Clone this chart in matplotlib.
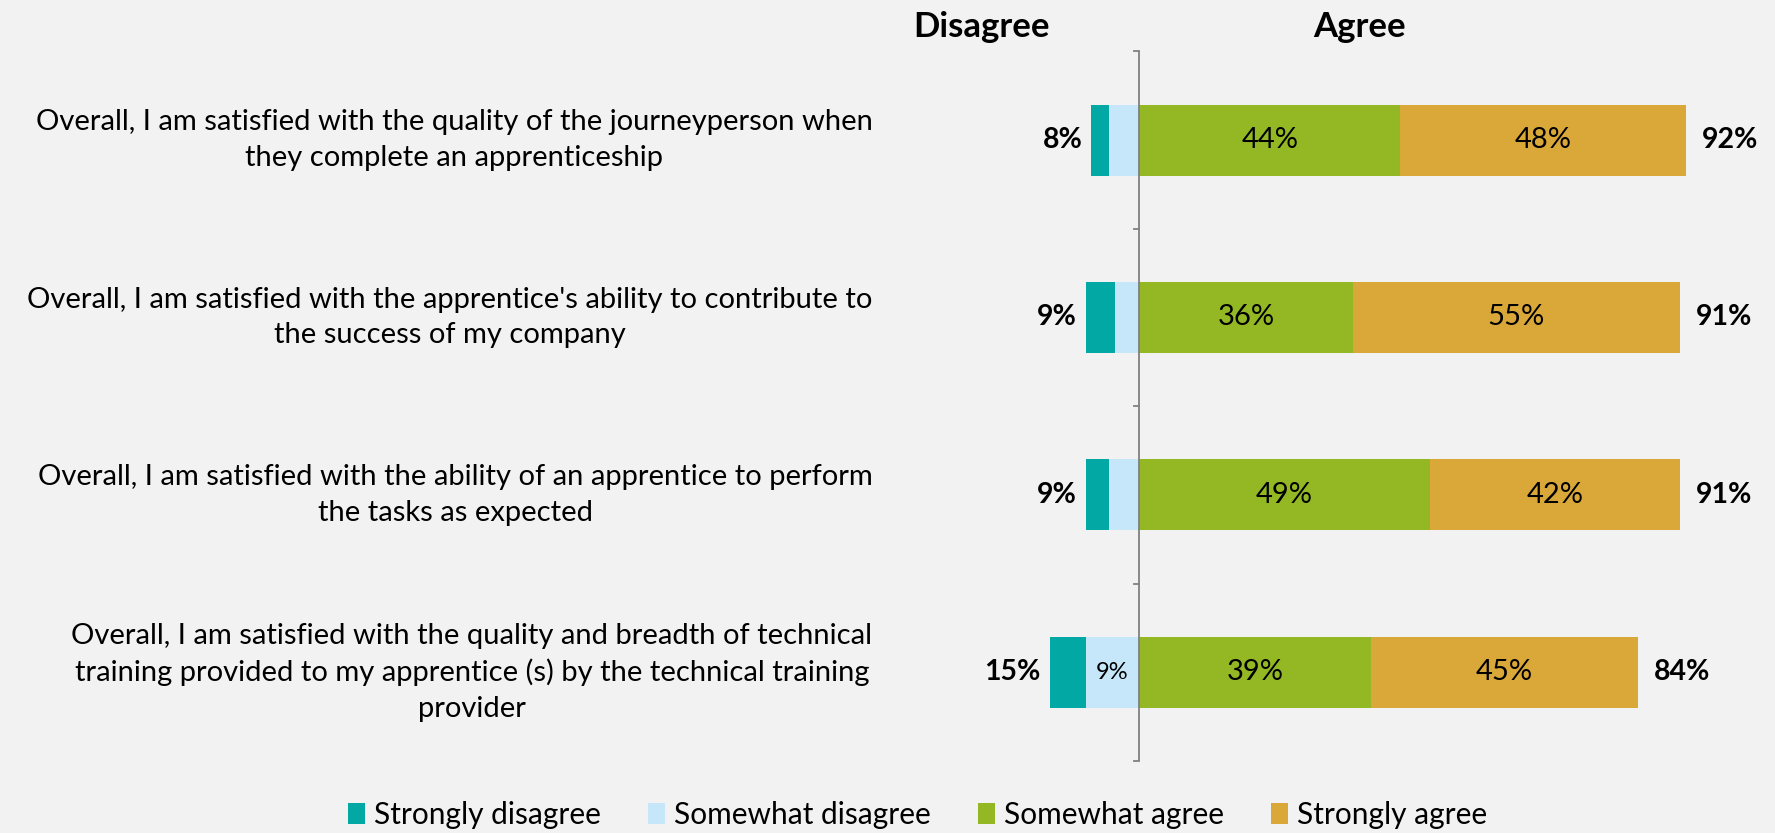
import matplotlib
matplotlib.use("Agg")
import matplotlib.pyplot as plt
import matplotlib.transforms as mtransforms
from matplotlib.patches import Patch

plt.rcParams['font.family'] = ['Lato', 'DejaVu Sans']

# Data
statements = [
    "Overall, I am satisfied with the quality of the journeyperson when\nthey complete an apprenticeship",
    "Overall, I am satisfied with the apprentice's ability to contribute to\nthe success of my company",
    "Overall, I am satisfied with the ability of an apprentice to perform\nthe tasks as expected",
    "Overall, I am satisfied with the quality and breadth of technical\ntraining provided to my apprentice (s) by the technical training\nprovider",
]
strongly_disagree = [3, 5, 4, 6]
somewhat_disagree = [5, 4, 5, 9]
somewhat_agree = [44, 36, 49, 39]
strongly_agree = [48, 55, 42, 45]
disagree_total = [8, 9, 9, 15]
agree_total = [92, 91, 91, 84]

series_names = ["Strongly disagree", "Somewhat disagree", "Somewhat agree", "Strongly agree"]
colors = ["#02A9A4", "#C6E6FA", "#93B823", "#DAA838"]
bg = "#F2F2F2"

fig = plt.figure(figsize=(17.75, 8.33), dpi=100, facecolor=bg)
ax = fig.add_axes([0.558, 0.0864, 0.4185, 0.852])
ax.set_facecolor(bg)

y = list(range(len(statements)))
h = 0.4

# disagree side (negative)
sd_left = [-(a + b) for a, b in zip(strongly_disagree, somewhat_disagree)]
sw_left = [-b for b in somewhat_disagree]
ax.barh(y, strongly_disagree, left=sd_left, height=h, color=colors[0])
ax.barh(y, somewhat_disagree, left=sw_left, height=h, color=colors[1])
# agree side
ax.barh(y, somewhat_agree, left=0, height=h, color=colors[2])
ax.barh(y, strongly_agree, left=somewhat_agree, height=h, color=colors[3])

for i in y:
    ax.text(somewhat_agree[i] / 2, i, f"{somewhat_agree[i]}%", ha='center', va='center', fontsize=21)
    ax.text(somewhat_agree[i] + strongly_agree[i] / 2, i, f"{strongly_agree[i]}%",
            ha='center', va='center', fontsize=21)
    if somewhat_disagree[i] >= 8:
        ax.text(-somewhat_disagree[i] / 2, i, f"{somewhat_disagree[i]}%", ha='center', va='center', fontsize=17)
    ax.text(-disagree_total[i] - 1.5, i, f"{disagree_total[i]}%", ha='right', va='center',
            fontsize=20.5, fontweight='bold')
    ax.text(somewhat_agree[i] + strongly_agree[i] + 2.7, i, f"{agree_total[i]}%", ha='left', va='center',
            fontsize=20.5, fontweight='bold')

ax.set_xlim(-25, 100)
ax.set_ylim(3.5, -0.5)

# center axis line with small ticks
ax.axvline(0, color='#808080', lw=1.3)
for t in [-0.5, 0.5, 1.5, 2.5, 3.5]:
    ax.plot([-0.9, 0], [t, t], color='#808080', lw=1.3, clip_on=False)
for s in ax.spines.values():
    s.set_visible(False)
ax.set_xticks([])
ax.set_yticks([])

# statement labels
trans = mtransforms.blended_transform_factory(fig.transFigure, ax.transData)
for i, s in enumerate(statements):
    ax.text(0.4915, i, s, transform=trans, ha='right', va='center', multialignment='center',
            fontsize=21, linespacing=1.45)

fig.text(0.5527, 0.968, "Disagree", ha='center', va='center', fontsize=25, fontweight='bold')
fig.text(0.766, 0.968, "Agree", ha='center', va='center', fontsize=25, fontweight='bold')

handles = [Patch(facecolor=c, edgecolor='none') for c in colors]
fig.legend(handles, series_names, loc='center', bbox_to_anchor=(0.517, 0.022), ncol=4,
           frameon=False, fontsize=21.5, handlelength=0.55, handleheight=0.7,
           handletextpad=0.3, columnspacing=1.6)

fig.savefig("out.png", dpi=100, facecolor=bg)
